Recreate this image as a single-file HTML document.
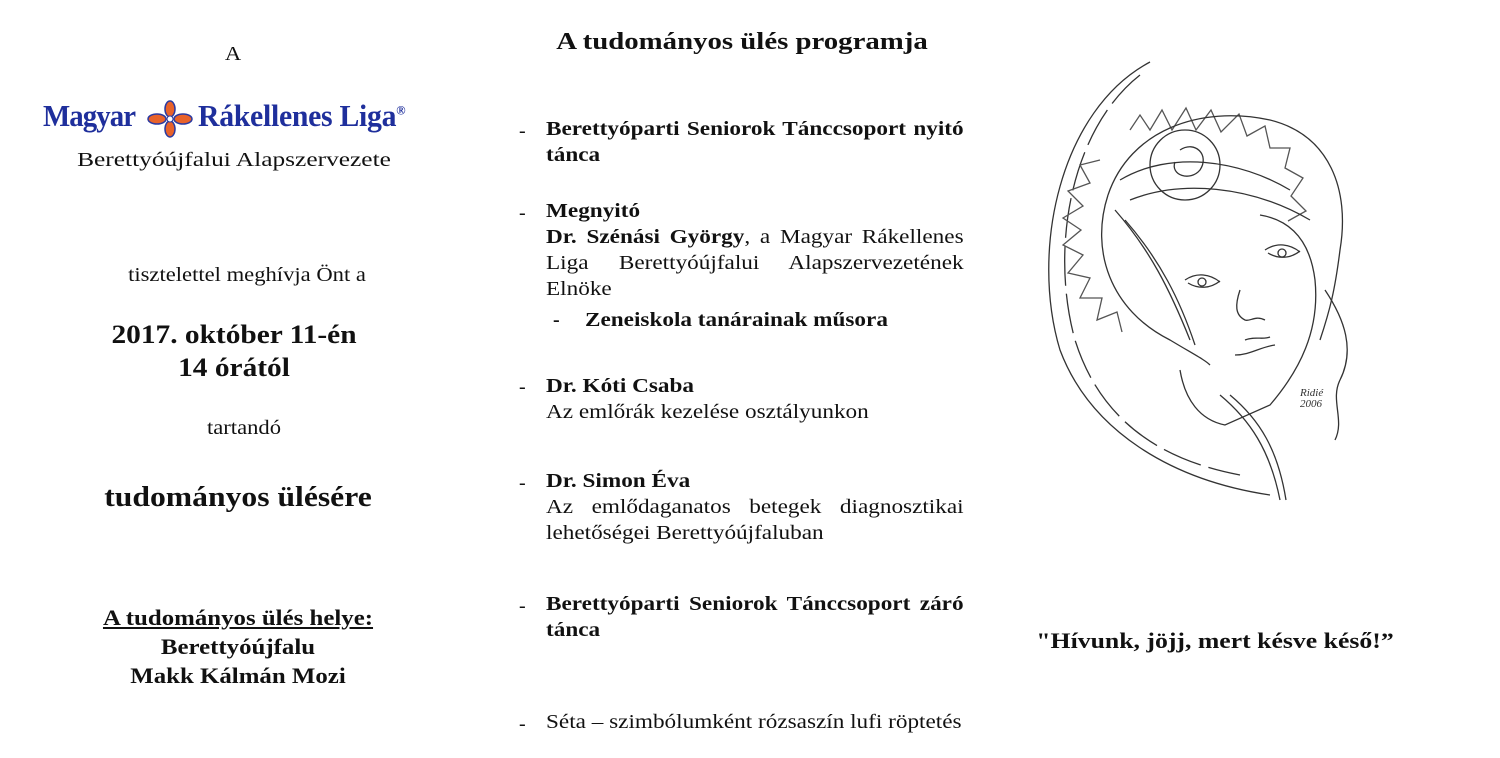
<!DOCTYPE html>
<html><head><meta charset="utf-8"><style>
body{margin:0;width:1500px;height:758px;background:#fff;position:relative;overflow:hidden;font-family:"Liberation Serif",serif;color:#111}
.a{position:absolute;white-space:nowrap;line-height:1}
.c{transform:translateX(-50%) scaleX(1.13)}
.b{font-weight:bold}
.col{position:absolute;left:546px;width:360px;font-size:20px;line-height:26px;text-align:justify;transform:scaleX(1.16);transform-origin:left top}
.d{position:absolute;left:519px;font-size:20px;line-height:26px}
</style></head><body>
<div class="a c" style="left:233px;top:44px;font-size:20px">A</div>
<div class="a" style="left:43px;top:100px;font-size:31px;color:#1f2f9c;font-weight:bold;letter-spacing:-1px;transform:scaleX(0.93);transform-origin:left">Magyar</div>
<svg class="a" style="left:147px;top:100px" width="46" height="38" viewBox="0 0 46 38">
<g fill="#e8622a" stroke="#2b3aa0" stroke-width="1.5">
<ellipse cx="23" cy="9" rx="5" ry="8"/><ellipse cx="23" cy="29" rx="5" ry="8"/>
<ellipse cx="10" cy="19" rx="9" ry="5"/><ellipse cx="36" cy="19" rx="9" ry="5"/></g>
<circle cx="23" cy="19" r="3" fill="#fff" stroke="#2b3aa0"/></svg>
<div class="a" style="left:198px;top:100px;font-size:31px;color:#1f2f9c;font-weight:bold;letter-spacing:-0.3px;transform:scaleX(0.96);transform-origin:left">Rákellenes Liga<sup style="font-size:13px">®</sup></div>
<div class="a c" style="left:234px;top:150px;font-size:20px;transform:translateX(-50%) scaleX(1.27)">Berettyóújfalui Alapszervezete</div>
<div class="a c" style="left:247px;top:265px;font-size:20px">tisztelettel meghívja Önt a</div>
<div class="a c b" style="left:234px;top:322px;font-size:26px">2017. október 11-én</div>
<div class="a c b" style="left:234px;top:355px;font-size:26px">14 órától</div>
<div class="a c" style="left:244px;top:418px;font-size:20px">tartandó</div>
<div class="a c b" style="left:238px;top:484px;font-size:28px">tudományos ülésére</div>
<div class="a c b" style="left:238px;top:607px;font-size:22px;text-decoration:underline">A tudományos ülés helye:</div>
<div class="a c b" style="left:238px;top:636px;font-size:22px">Berettyóújfalu</div>
<div class="a c b" style="left:238px;top:665px;font-size:22px">Makk Kálmán Mozi</div>

<div class="a c b" style="left:742px;top:30px;font-size:24px;transform:translateX(-50%) scaleX(1.2)">A tudományos ülés programja</div>
<div class="d" style="top:118px">-</div>
<div class="col b" style="top:116px;text-align-last:left">Berettyóparti Seniorok Tánccsoport nyitó tánca</div>
<div class="d" style="top:200px">-</div>
<div class="col" style="top:198px;text-align-last:left"><b>Megnyitó</b><br><b>Dr. Szénási György</b>, a Magyar Rákellenes Liga Berettyóújfalui Alapszervezetének Elnöke</div>
<div class="d" style="top:307px;left:553px;font-weight:bold">-</div>
<div class="col b" style="top:307px;left:585px">Zeneiskola tanárainak műsora</div>
<div class="d" style="top:374px">-</div>
<div class="col" style="top:373px;text-align-last:left"><b>Dr. Kóti Csaba</b><br>Az emlőrák kezelése osztályunkon</div>
<div class="d" style="top:470px">-</div>
<div class="col" style="top:468px;text-align-last:left"><b>Dr. Simon Éva</b><br>Az emlődaganatos betegek diagnosztikai lehetőségei Berettyóújfaluban</div>
<div class="d" style="top:593px">-</div>
<div class="col b" style="top:591px;text-align-last:left">Berettyóparti Seniorok Tánccsoport záró tánca</div>
<div class="d" style="top:711px">-</div>
<div class="col" style="top:709px;white-space:nowrap">Séta – szimbólumként rózsaszín lufi röptetés</div>

<svg class="a" style="left:1020px;top:50px" width="400" height="460" viewBox="0 0 400 460" fill="none" stroke="#333" stroke-width="1.3">
<path d="M130 12 C40 60 10 200 40 300 C70 380 150 430 250 445" />
<path d="M120 25 C50 80 30 200 55 290 C80 370 140 410 220 425" stroke-dasharray="40 8"/>
<g stroke="#555">
<path d="M110 80 l10 -15 l10 15 l12 -20 l10 20 l14 -22 l10 22 l15 -20 l10 22 l18 -18 l8 22 l18 -10 l5 22 l20 0 l-5 20 l18 10 l-12 18 l15 15 l-18 10"/>
<path d="M80 110 l-20 5 l10 18 l-22 8 l15 15 l-20 12 l18 12 l-18 15 l20 10 l-15 18 l22 5 l-10 20 l22 0 l-5 22 l20 -8 l5 20"/>
</g>
<circle cx="165" cy="115" r="35"/>
<path d="M160 100 c15 -10 30 5 20 20 c-10 12 -30 5 -25 -8"/>
<path d="M88 145 C110 80 180 55 250 70 C310 85 330 140 320 200 C315 240 310 260 300 290"/>
<path d="M88 145 C70 200 90 260 150 290 C175 305 185 310 190 315"/>
<path d="M100 130 C150 100 220 110 270 140" /><path d="M110 150 C160 130 230 135 290 170"/>
<path d="M95 160 C130 200 150 240 170 290"/><path d="M105 170 C140 210 160 250 175 295"/>
<path d="M240 165 C270 170 290 190 295 230 C300 280 280 320 250 355 L205 375 C180 370 165 350 160 320"/>
<path d="M245 200 c12 -8 25 -6 35 2 M248 203 c10 6 22 6 32 -2"/>
<circle cx="262" cy="203" r="4"/>
<path d="M165 230 c12 -8 25 -6 35 2 M168 233 c10 6 22 6 32 -2"/><circle cx="182" cy="232" r="4"/>
<path d="M220 240 c-5 15 -5 25 5 30 c5 2 10 -5 20 0"/>
<path d="M215 305 c15 0 25 -8 40 -10"/><path d="M225 290 c10 -4 18 0 25 -3"/>
<path d="M200 345 C230 370 250 400 260 450"/><path d="M210 345 C240 370 258 400 266 450"/>
<path d="M305 240 c20 30 30 60 15 90 c-10 20 5 40 -5 60"/>
</g>
</svg>
<div class="a" style="left:1300px;top:388px;font-size:11px;font-style:italic;color:#333">Ridié<br>2006</div>

<div class="a c b" style="left:1215px;top:630px;font-size:22px;transform:translateX(-50%) scaleX(1.17)">"Hívunk, jöjj, mert késve késő!”</div>
</body></html>
